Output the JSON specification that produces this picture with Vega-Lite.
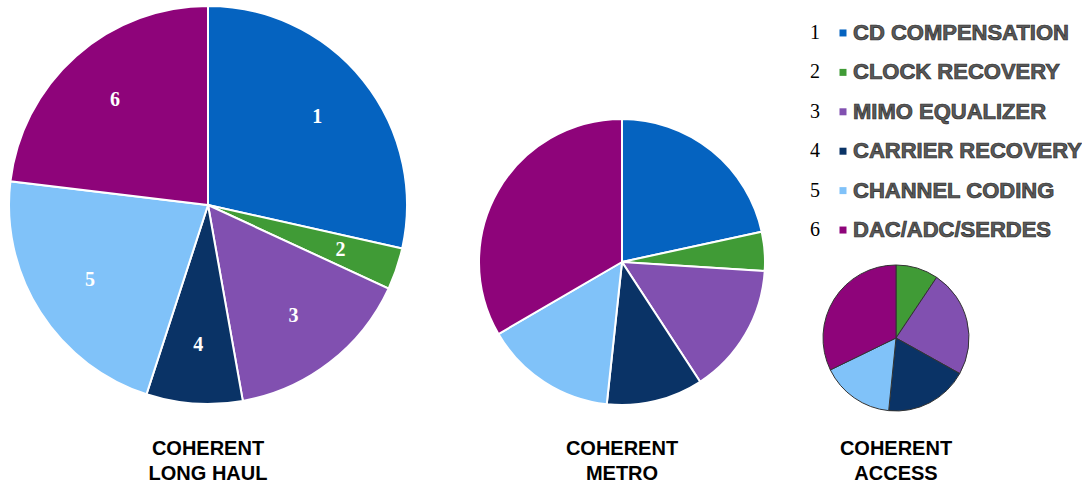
{
  "$schema": "https://vega.github.io/schema/vega-lite/v6.json",
  "padding": {"left": 5, "top": 2, "right": 0, "bottom": 0},
  "background": "white",
  "config": {"view": {"stroke": null}},
  "datasets": {
    "shares": [
      {"chart": "Long Haul", "num": 1, "component": "CD COMPENSATION", "value": 28.5},
      {"chart": "Long Haul", "num": 2, "component": "CLOCK RECOVERY", "value": 3.4},
      {"chart": "Long Haul", "num": 3, "component": "MIMO EQUALIZER", "value": 15.3},
      {"chart": "Long Haul", "num": 4, "component": "CARRIER RECOVERY", "value": 7.8},
      {"chart": "Long Haul", "num": 5, "component": "CHANNEL CODING", "value": 21.9},
      {"chart": "Long Haul", "num": 6, "component": "DAC/ADC/SERDES", "value": 23.1},
      {"chart": "Metro", "num": 1, "component": "CD COMPENSATION", "value": 21.6},
      {"chart": "Metro", "num": 2, "component": "CLOCK RECOVERY", "value": 4.4},
      {"chart": "Metro", "num": 3, "component": "MIMO EQUALIZER", "value": 14.8},
      {"chart": "Metro", "num": 4, "component": "CARRIER RECOVERY", "value": 10.9},
      {"chart": "Metro", "num": 5, "component": "CHANNEL CODING", "value": 14.9},
      {"chart": "Metro", "num": 6, "component": "DAC/ADC/SERDES", "value": 33.4},
      {"chart": "Access", "num": 1, "component": "CD COMPENSATION", "value": 0},
      {"chart": "Access", "num": 2, "component": "CLOCK RECOVERY", "value": 9.4},
      {"chart": "Access", "num": 3, "component": "MIMO EQUALIZER", "value": 23.7},
      {"chart": "Access", "num": 4, "component": "CARRIER RECOVERY", "value": 18.5},
      {"chart": "Access", "num": 5, "component": "CHANNEL CODING", "value": 16.2},
      {"chart": "Access", "num": 6, "component": "DAC/ADC/SERDES", "value": 32.2}
    ]
  },
  "data": {"name": "shares"},
  "bounds": "flush",
  "spacing": 72,
  "hconcat": [
    {
      "width": 398,
      "height": 398,
      "transform": [{"filter": "datum.chart === 'Long Haul'"}],
      "title": {"text": ["COHERENT", "LONG HAUL"], "orient": "bottom", "anchor": "middle", "offset": 31, "fontSize": 20, "font": "Liberation Sans", "fontWeight": "bold", "color": "black", "lineHeight": 25},
      "encoding": {
        "theta": {"field": "value", "type": "quantitative", "stack": true},
        "order": {"field": "num", "type": "quantitative"}
      },
      "layer": [
        {
          "mark": {"type": "arc", "radius": 199, "stroke": "white", "strokeWidth": 2},
          "encoding": {
            "color": {"field": "component", "type": "nominal", "legend": null,
              "scale": {"domain": ["CD COMPENSATION", "CLOCK RECOVERY", "MIMO EQUALIZER", "CARRIER RECOVERY", "CHANNEL CODING", "DAC/ADC/SERDES"],
                        "range": ["#0563C0", "#409B36", "#8150B0", "#0A3366", "#80C2F9", "#8E047A"]}}
          }
        },
        {
          "mark": {"type": "text", "radius": 140, "fill": "white", "font": "Liberation Serif", "fontWeight": "bold", "fontSize": 20},
          "encoding": {"text": {"field": "num", "type": "nominal"}}
        }
      ]
    },
    {
      "width": 286,
      "height": 399,
      "transform": [{"filter": "datum.chart === 'Metro'"}],
      "title": {"text": ["COHERENT", "METRO"], "orient": "bottom", "anchor": "middle", "offset": 30, "fontSize": 20, "font": "Liberation Sans", "fontWeight": "bold", "color": "black", "lineHeight": 25},
      "mark": {"type": "arc", "radius": 143, "y": 256, "stroke": "white", "strokeWidth": 2},
      "encoding": {
        "theta": {"field": "value", "type": "quantitative", "stack": true},
        "order": {"field": "num", "type": "quantitative"},
        "color": {"field": "component", "type": "nominal", "legend": null}
      }
    },
    {
      "bounds": "flush",
      "spacing": 8,
      "vconcat": [
        {
          "width": 12,
          "height": 251,
          "transform": [{"filter": "datum.chart === 'Long Haul'"}],
          "encoding": {
            "y": {"field": "num", "type": "ordinal", "scale": {"type": "point", "padding": 0.684}, "axis": null}
          },
          "layer": [
            {
              "mark": {"type": "text", "dx": -28, "align": "center", "baseline": "middle", "font": "Liberation Serif", "fontSize": 20, "fill": "black"},
              "encoding": {"text": {"field": "num", "type": "nominal"}}
            },
            {
              "mark": {"type": "point", "shape": "square", "filled": true, "size": 49, "opacity": 1, "dy": 3},
              "encoding": {"color": {"field": "component", "type": "nominal", "legend": null}}
            },
            {
              "mark": {"type": "text", "dx": 10, "align": "left", "baseline": "middle", "font": "Liberation Sans", "fontWeight": "bold", "fontSize": 22, "fill": "#5a5a5a", "stroke": "#2b2b2b", "strokeWidth": 0.7},
              "encoding": {"text": {"field": "component", "type": "nominal"}}
            }
          ]
        },
        {
          "width": 118,
          "height": 146,
          "transform": [{"filter": "datum.chart === 'Access'"}],
          "title": {"text": ["COHERENT", "ACCESS"], "orient": "bottom", "anchor": "middle", "offset": 26, "fontSize": 20, "font": "Liberation Sans", "fontWeight": "bold", "color": "black", "lineHeight": 25},
          "mark": {"type": "arc", "radius": 73, "stroke": "#333333", "strokeWidth": 1},
          "encoding": {
            "theta": {"field": "value", "type": "quantitative", "stack": true},
            "order": {"field": "num", "type": "quantitative"},
            "color": {"field": "component", "type": "nominal", "legend": null}
          }
        }
      ]
    }
  ]
}
